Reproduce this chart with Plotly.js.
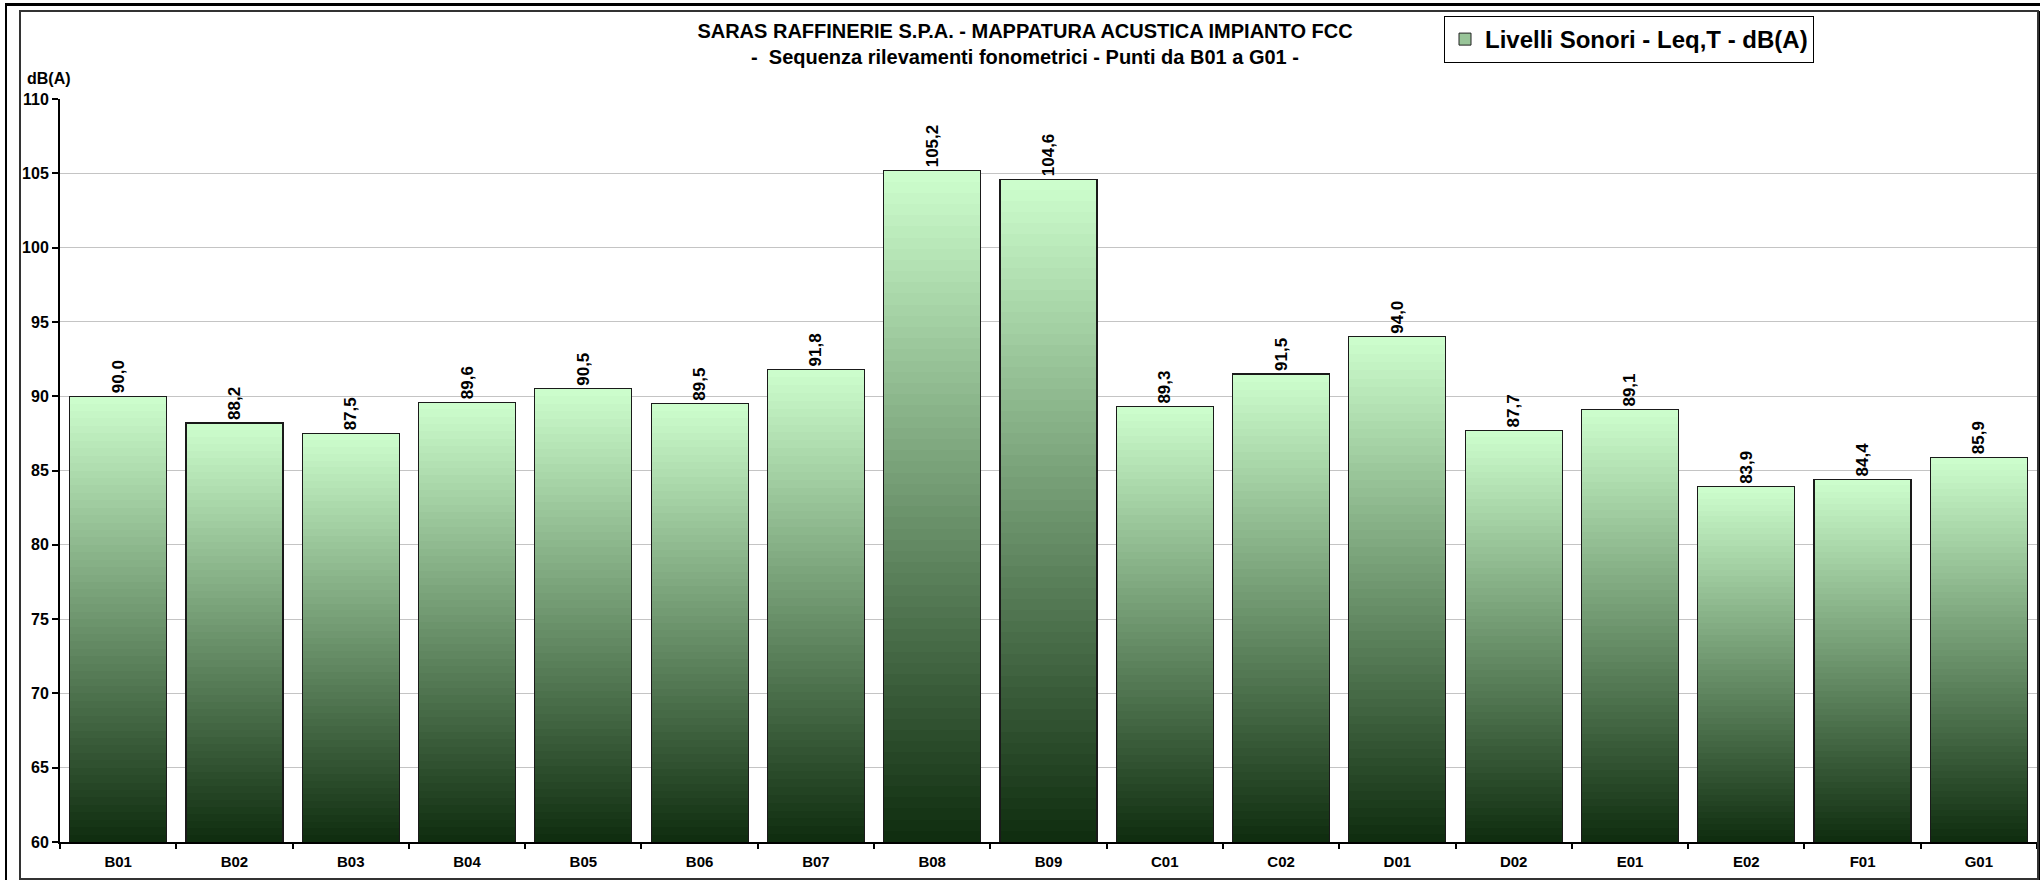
<!DOCTYPE html>
<html>
<head>
<meta charset="utf-8">
<script src="https://cdn.plot.ly/plotly-3.0.1.min.js"></script>
<style>
  html, body { margin: 0; padding: 0; background: #ffffff; }
  #wrap { position: relative; width: 2040px; height: 880px; overflow: hidden; }
  #chart { position: absolute; left: 0; top: 0; width: 2040px; height: 880px; }
  #outer { position: absolute; left: 5px; top: 3px; width: 2040px; height: 900px;
           border-left: 2px solid #000; border-top: 3px solid #000; pointer-events: none; }
  #inner { position: absolute; left: 19px; top: 10px; width: 2016px; height: 866px;
           border: 2px solid #333; box-shadow: 1px 1px 0 #000; pointer-events: none; }
</style>
</head>
<body>
<div id="wrap">
  <div id="chart"></div>
  <div id="outer"></div>
  <div id="inner"></div>
</div>
<script>
// ---- data ----
const categories = ['B01','B02','B03','B04','B05','B06','B07','B08','B09','C01','C02','D01','D02','E01','E02','F01','G01'];
const levels = [90.0, 88.2, 87.5, 89.6, 90.5, 89.5, 91.8, 105.2, 104.6, 89.3, 91.5, 94.0, 87.7, 89.1, 83.9, 84.4, 85.9];
const seriesName = 'Livelli Sonori - Leq,T - dB(A)';
const titleLines = ['SARAS RAFFINERIE S.P.A. - MAPPATURA ACUSTICA IMPIANTO FCC',
                    '-&nbsp; Sequenza rilevamenti fonometrici - Punti da B01 a G01 -'];
const yUnit = 'dB(A)';
const yMin = 60, yMax = 110, yStep = 5;

// ---- style ----
const FONT = 'Liberation Sans, Arial, Helvetica, sans-serif';
const TOP_COLOR = [206, 255, 206];
const BOTTOM_COLOR = [14, 44, 14];
const STEPS = 60;

function mix(t) {
  const c = TOP_COLOR.map((v, i) => Math.round(BOTTOM_COLOR[i] + (v - BOTTOM_COLOR[i]) * t));
  return 'rgb(' + c.join(',') + ')';
}

const traces = [];
// floor part (below the axis minimum, hidden by the range)
traces.push({
  type: 'bar', x: categories, y: levels.map(() => yMin),
  marker: { color: mix(0), line: { width: 0 } },
  hoverinfo: 'skip', showlegend: false
});
// gradient slices of each bar (each bar split evenly from the axis floor to its value)
for (let s = 0; s < STEPS; s++) {
  traces.push({
    type: 'bar', x: categories,
    y: levels.map(v => (v - yMin) / STEPS),
    marker: { color: mix((s + 0.5) / STEPS), line: { width: 0 } },
    hoverinfo: 'skip', showlegend: false
  });
}
// outline + value labels
traces.push({
  type: 'bar', x: categories, y: levels, xaxis: 'x2',
  marker: { color: 'rgba(0,0,0,0)', line: { color: '#1a1a1a', width: 1.2 } },
  text: levels.map(v => v.toFixed(1).replace('.', ',')),
  textposition: 'outside', textangle: -90, constraintext: 'none', cliponaxis: false,
  textfont: { family: FONT, size: 17, color: '#000', weight: 700 },
  hovertemplate: '%{x}: %{y:.1f} dB(A)<extra></extra>',
  showlegend: false
});
// legend entry
traces.push({
  type: 'bar', x: [categories[0]], y: [null], xaxis: 'x2', name: seriesName,
  marker: { color: mix(0.72), line: { color: '#222', width: 1 } },
  showlegend: true, hoverinfo: 'skip'
});

const layout = {
  width: 2040, height: 880, autosize: false,
  margin: { l: 60, r: 3, t: 99, b: 38, pad: 0 },
  paper_bgcolor: '#ffffff', plot_bgcolor: '#ffffff',
  barmode: 'stack', bargap: 0.166,
  font: { family: FONT, color: '#000' },
  title: {
    text: titleLines.join('<br>'),
    font: { family: FONT, size: 20, color: '#000', weight: 700 },
    xref: 'container', x: 1025 / 2040, xanchor: 'center',
    yref: 'container', y: 1 - 38 / 880, yanchor: 'top'
  },
  xaxis: {
    type: 'category', range: [-0.5, categories.length - 0.5],
    showgrid: false, showline: true, linecolor: '#000', linewidth: 2,
    ticks: 'outside', tickson: 'boundaries', ticklen: 5, tickcolor: '#000', tickwidth: 1.5,
    tickfont: { family: FONT, size: 15, color: '#000', weight: 700 },
    ticklabelstandoff: 5, fixedrange: true
  },
  xaxis2: {
    type: 'category', overlaying: 'x', range: [-0.5, categories.length - 0.5],
    showgrid: false, showline: false, showticklabels: false, ticks: '', fixedrange: true
  },
  yaxis: {
    range: [yMin, yMax], dtick: yStep, tick0: yMin,
    showgrid: true, gridcolor: '#c4c4c4', gridwidth: 1,
    showline: true, linecolor: '#000', linewidth: 2,
    ticks: 'outside', ticklen: 6, tickcolor: '#000', tickwidth: 1.5,
    tickfont: { family: FONT, size: 16, color: '#000', weight: 700 },
    zeroline: false, fixedrange: true
  },
  legend: {
    x: (1444 - 60) / 1977, xanchor: 'left',
    y: (842 - 16) / 743, yanchor: 'top',
    bgcolor: '#ffffff', bordercolor: '#000', borderwidth: 1,
    font: { family: FONT, size: 24, color: '#000', weight: 700 },
    itemwidth: 30
  },
  annotations: [{
    text: yUnit, xref: 'paper', yref: 'paper',
    x: (25 - 60) / 1977, xanchor: 'left',
    y: (842 - 78) / 743, yanchor: 'middle',
    showarrow: false,
    font: { family: FONT, size: 16, color: '#000', weight: 700 }
  }]
};

Plotly.newPlot('chart', traces, layout, { displayModeBar: false });
</script>
</body>
</html>
